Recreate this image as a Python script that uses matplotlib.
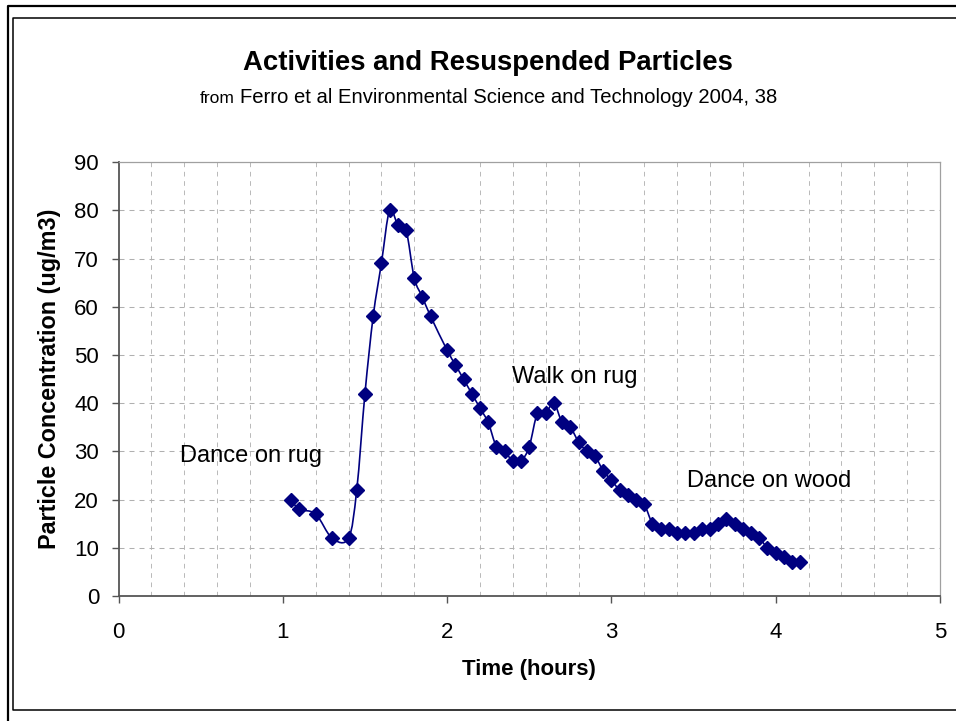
import numpy as np
import matplotlib
matplotlib.use("Agg")
import matplotlib.pyplot as plt
from matplotlib.path import Path
from matplotlib.patches import PathPatch
from matplotlib.lines import Line2D

plt.rcParams['font.family'] = ['Liberation Sans', 'DejaVu Sans']

# data
time_hours = [1.05, 1.1, 1.2, 1.3, 1.4, 1.45, 1.5, 1.55, 1.6, 1.65, 1.7, 1.75,
              1.8, 1.85, 1.9, 2.0, 2.05, 2.1, 2.15, 2.2, 2.25, 2.3, 2.35, 2.4,
              2.45, 2.5, 2.55, 2.6, 2.65, 2.7, 2.75, 2.8, 2.85, 2.9, 2.95, 3.0,
              3.05, 3.1, 3.15, 3.2, 3.25, 3.3, 3.35, 3.4, 3.45, 3.5, 3.55, 3.6,
              3.65, 3.7, 3.75, 3.8, 3.85, 3.9, 3.95, 4.0, 4.05, 4.1, 4.15]
concentration = [20, 18, 17, 12, 12, 22, 42, 58, 69, 80, 77, 76,
                 66, 62, 58, 51, 48, 45, 42, 39, 36, 31, 30, 28,
                 28, 31, 38, 38, 40, 36, 35, 32, 30, 29, 26, 24,
                 22, 21, 20, 19, 15, 14, 14, 13, 13, 13, 14, 14,
                 15, 16, 15, 14, 13, 12, 10, 9, 8, 7, 7]

activities = ["Dance on rug", "Walk on rug", "Dance on wood"]
activity_x = [0.376, 2.393, 3.46]
activity_y = [27.9, 44.1, 22.6]

x_ticks = [0, 1, 2, 3, 4, 5]
y_ticks = [0, 10, 20, 30, 40, 50, 60, 70, 80, 90]

NAVY = '#000080'
W, H = 956, 721


def smooth_path(xs, ys):
  # bezier segments through the points, like a spreadsheet "smoothed line"
  pts = np.column_stack([xs, ys]).astype(float)
  n = len(pts)
  verts = [pts[0]]
  codes = [Path.MOVETO]
  for i in range(n - 1):
    p0 = pts[max(i - 1, 0)]
    p1 = pts[i]
    p2 = pts[i + 1]
    p3 = pts[min(i + 2, n - 1)]
    c1 = p1 + (p2 - p0) / 6.0
    c2 = p2 - (p3 - p1) / 6.0
    verts += [c1, c2, p2]
    codes += [Path.CURVE4] * 3
  return Path(verts, codes)


fig = plt.figure(figsize=(W / 100, H / 100), dpi=100)
ax = fig.add_axes([118.5 / W, 1 - 596 / H, (940 - 118.5) / W, (596 - 162.2) / H])

ax.set_xlim(0, 5)
ax.set_ylim(0, 90)
ax.set_xticks(x_ticks)
ax.set_yticks(y_ticks)
ax.set_xticks(np.arange(0, 5.01, 0.2), minor=True)

ax.grid(True, which='major', axis='y', color='#b0b0b0', lw=0.75, linestyle=(0, (4.8, 4.8)))
ax.grid(True, which='minor', axis='x', color='#b8b8b8', lw=0.7, linestyle=(0, (4.8, 4.8)))
ax.set_axisbelow(True)

ax.tick_params(axis='both', which='major', direction='out', length=5, width=1,
               color='#555555', labelsize=16)
ax.tick_params(axis='x', which='major', pad=14)
ax.tick_params(axis='y', which='major', pad=9)
ax.tick_params(axis='x', which='minor', length=0)

for side in ['left', 'bottom']:
  ax.spines[side].set_color('#555555')
  ax.spines[side].set_linewidth(1.3)
for side in ['top', 'right']:
  ax.spines[side].set_color('#a0a0a0')
  ax.spines[side].set_linewidth(0.9)

ax.add_patch(PathPatch(smooth_path(time_hours, concentration), fill=False,
                       edgecolor=NAVY, lw=1.2, zorder=3))
ax.plot(time_hours, concentration, linestyle='none', marker='D', markersize=6.8,
        color=NAVY, zorder=4)

for label, lx, ly in zip(activities, activity_x, activity_y):
  ax.text(lx, ly, label, fontsize=17, ha='left', va='baseline', color='black')

ax.set_xlabel("Time (hours)", fontsize=16, fontweight='bold', va='center')
ax.xaxis.set_label_coords(0.5, (596 - 670) / (596 - 162.2))
ax.set_ylabel("Particle Concentration (ug/m3)", fontsize=16.8, fontweight='bold', va='center')
ax.yaxis.set_label_coords((50 - 118.5) / (940 - 118.5), 0.5)

fig.text(488 / W, 1 - 70 / H, "Activities and Resuspended Particles", fontsize=19.8,
         fontweight='bold', ha='center', va='baseline')
fig.text(200 / W, 1 - 103 / H, "from", fontsize=12.5, ha='left', va='baseline')
fig.text(240 / W, 1 - 103 / H, "Ferro et al Environmental Science and Technology 2004, 38",
         fontsize=14.6, ha='left', va='baseline')

# outer and inner frame lines
fig.add_artist(Line2D([8.3 / W, 8.3 / W, 1.0], [0.0, 1 - 5.5 / H, 1 - 5.5 / H],
                      transform=fig.transFigure, color='black', lw=1.6))
fig.add_artist(Line2D([1.0, 13.3 / W, 13.3 / W, 1.0],
                      [1 - 18.3 / H, 1 - 18.3 / H, 1 - 709.5 / H, 1 - 709.5 / H],
                      transform=fig.transFigure, color='black', lw=1.1))

fig.savefig("out.png", dpi=100)
